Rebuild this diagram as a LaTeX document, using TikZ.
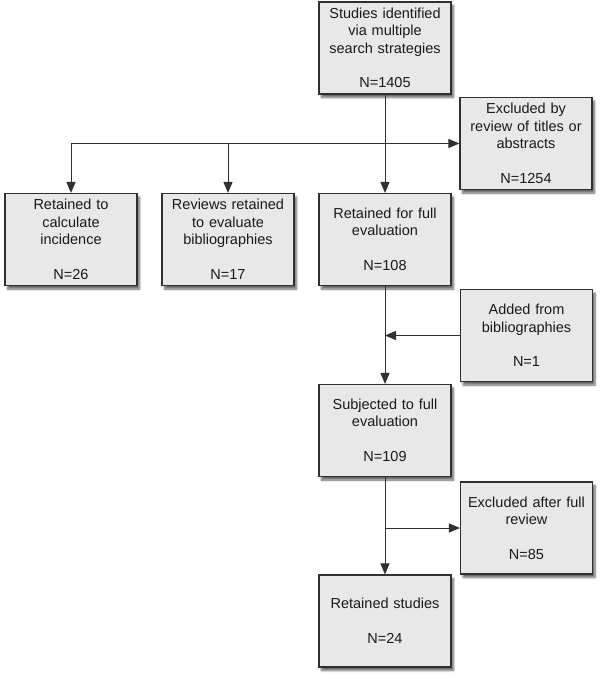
\documentclass[tikz,border=0pt]{standalone}
\usepackage{fontspec}
\setmainfont{Liberation Sans}
\usetikzlibrary{arrows.meta,shadows.blur}
\definecolor{boxfill}{HTML}{E8E8E8}
\definecolor{boxline}{HTML}{303030}
\definecolor{txt}{HTML}{1A1A1A}
\tikzset{
  flowbox/.style={draw=boxline, line width=1.1pt, fill=boxfill, text=txt,
    minimum width=132pt, minimum height=92pt, text width=126pt, inner sep=0pt,
    align=center, font=\fontsize{14.5}{17.4}\selectfont,
    blur shadow={shadow xshift=2.5pt, shadow yshift=-3.5pt, shadow opacity=60, shadow blur steps=6}},
  conn/.style={draw=boxline, line width=0.9pt, -{Triangle[length=11pt,width=9pt]}}
}
\begin{document}
\begin{tikzpicture}[x=1pt,y=-1pt]
\useasboundingbox (0,0) rectangle (600,679);
\node[flowbox] (studies) at (385,48) {Studies identified\\via multiple\\search strategies\\[17.4pt]N=1405};
\node[flowbox] (excl1) at (526,143.5) {Excluded by\\review of titles or\\abstracts\\[17.4pt]N=1254};
\node[flowbox] (calc) at (71,239.5) {Retained to\\calculate\\incidence\\[17.4pt]N=26};
\node[flowbox] (rev) at (228,239.5) {Reviews retained\\to evaluate\\bibliographies\\[17.4pt]N=17};
\node[flowbox] (retfull) at (385,239.5) {Retained for full\\evaluation\\[17.4pt]N=108};
\node[flowbox] (added) at (526.5,335.5) {Added from\\bibliographies\\[17.4pt]N=1};
\node[flowbox] (subj) at (385,430.5) {Subjected to full\\evaluation\\[17.4pt]N=109};
\node[flowbox] (excl2) at (526.5,528) {Excluded after full\\review\\[17.4pt]N=85};
\node[flowbox] (ret) at (385,621) {Retained studies\\[17.4pt]N=24};

\coordinate (j1) at (studies.south |- excl1.west);
\coordinate (j2) at (retfull.south |- added.west);
\coordinate (j3) at (subj.south |- excl2.west);

\draw[conn] (studies.south) -- (retfull.north);
\draw[conn] (j1) -- (excl1.west);
\draw[conn] (j1) -| (calc.north);
\draw[conn] (j1) -| (rev.north);
\draw[conn] (retfull.south) -- (subj.north);
\draw[conn] (added.west) -- (j2);
\draw[conn] (subj.south) -- (ret.north);
\draw[conn] (j3) -- (excl2.west);
\end{tikzpicture}
\end{document}
